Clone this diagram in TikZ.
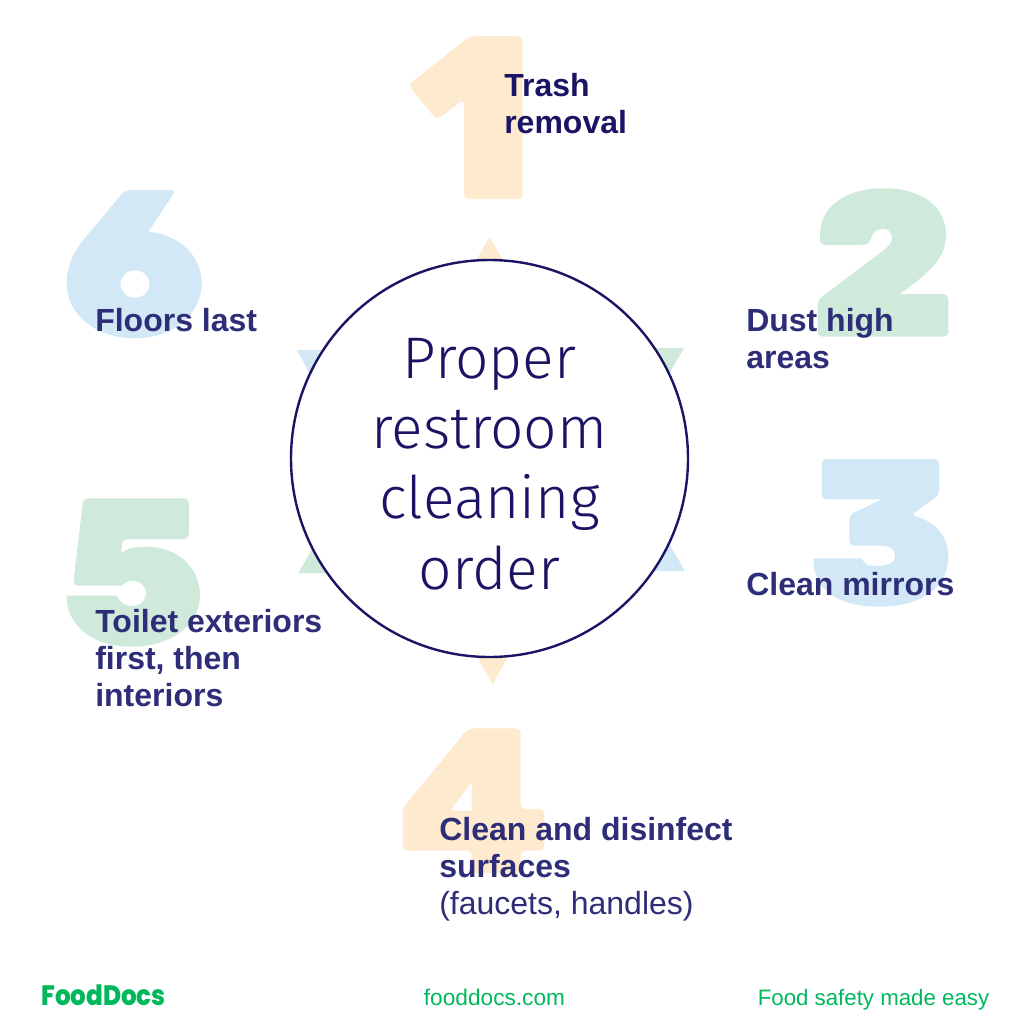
\documentclass[tikz,border=0pt]{standalone}
\usepackage{fontspec}
\setmainfont{Liberation Sans}
\newfontfamily\digitfont{Poppins Black}
\newfontfamily\titlefont{Fira Sans Light}
\newfontfamily\labelfont{Liberation Sans Bold}
\newfontfamily\logofont{Poppins ExtraBold}
\definecolor{navy}{HTML}{1B1464}
\definecolor{labelnavy}{HTML}{2E2D78}
\definecolor{peach}{HTML}{FDEACF}
\definecolor{mint}{HTML}{CFEADA}
\definecolor{sky}{HTML}{D3E8F6}
\definecolor{leaf}{HTML}{00B85C}
\tikzset{
  numeral/.style={inner sep=0pt, anchor=center, font=\digitfont\fontsize{34}{34}\selectfont},
  digitshape/.style={rounded corners=3.5pt, even odd rule},
  tasklabel/.style={inner sep=0pt, anchor=north west, align=left, text=labelnavy, font=\labelfont\fontsize{24}{27.7}\selectfont},
  footlabel/.style={inner sep=0pt, text=leaf, font=\fontsize{17}{20}\selectfont},
}
\begin{document}
\begin{tikzpicture}[x=.75pt,y=-.75pt]
\useasboundingbox (0,0) rectangle (1028,1036);
% numerals
\fill[peach,digitshape] (470,36) -- (522.7,36) -- (522.7,199) -- (464,199) -- (464,99.3) -- (436.7,120) -- (408.3,85) -- cycle;
\node[numeral,text=peach] (one) at (493,160) {1};
\fill[mint,digitshape] (820,245) [sharp corners] -- (820,235) .. controls (820,205) and (848,188) .. (883.3,188.3)
  .. controls (920,188) and (946,205) .. (946,235) .. controls (946,258) and (930,272) .. (900,294) [rounded corners=3.5pt]
  -- (948.3,294) -- (948.3,336.7) -- (817.7,336.7) -- (817.7,300) -- (880,253) [sharp corners]
  .. controls (888,247) and (892,243) .. (892,238) .. controls (892,232) and (888,229) .. (883,229)
  .. controls (877,229) and (873,232) .. (871,238) .. controls (870,243) and (867,245) .. (863,245) [rounded corners=3.5pt] -- cycle;
\node[numeral,text=mint] (two) at (919,238) {2};
\fill[sky,digitshape] (821.7,459) -- (939.3,459) -- (939.3,495) -- (911,515) [sharp corners]
  .. controls (935,522) and (948.3,535) .. (948.3,557) .. controls (948.3,588) and (920,606.7) .. (880,606.7)
  .. controls (840,606.7) and (813.3,592) .. (813.3,558.3) -- (861.7,558.3)
  .. controls (864,564) and (868,566) .. (875,566) .. controls (888,566) and (895,563) .. (895,556)
  .. controls (895,549) and (890,545.7) .. (880,545.7) [rounded corners=3.5pt] -- (849.3,545.7) -- (849.3,515) [sharp corners] -- (881.7,499.3) [rounded corners=3.5pt] -- (821.7,499.3) -- cycle;
\node[numeral,text=sky] (three) at (880,479) {3};
\fill[peach,digitshape] (468.3,728.3) -- (520.7,728.3) -- (520.7,809) -- (544.3,809) -- (544.3,850.7) -- (520.7,850.7)
  -- (520.7,873.3) -- (471.7,873.3) -- (471.7,850.7) -- (402.7,850.7) -- (402.7,808) -- cycle
  [sharp corners] (471.7,781.7) -- (471.7,810.7) -- (450.7,810.7) -- cycle;
\node[numeral,text=peach] (four) at (496,770) {4};
\fill[mint,digitshape] (83.3,498.3) -- (189,498.3) -- (189,539) -- (122.7,539) [sharp corners] -- (121,553.3)
  .. controls (128,548) and (136,546.7) .. (146.7,546.7) .. controls (178,546.7) and (200,568) .. (200,595)
  .. controls (200,626) and (170,646.7) .. (131.7,646.7) .. controls (95,646.7) and (66.7,628) .. (66.7,595.7)
  -- (116.7,595.7) .. controls (120,602) and (125,606) .. (132,606) .. controls (141,606) and (146,600) .. (146,593.3)
  .. controls (146,586) and (140,580.7) .. (133.3,580.7) .. controls (128,580.7) and (124,583) .. (121.7,585.7) [rounded corners=3.5pt]
  -- (73,585.7) -- cycle;
\node[numeral,text=mint] (five) at (136,518) {5};
\fill[sky,digitshape] (125,190) -- (176,190) [sharp corners] -- (148.3,231.7)
  .. controls (180,235) and (201.7,256) .. (201.7,283.3) .. controls (201.7,315) and (172,338.3) .. (135,338.3)
  .. controls (96,338.3) and (66.7,315) .. (66.7,283.3) .. controls (66.7,265) and (74,252) .. (83.3,240) [rounded corners=3.5pt] -- cycle
  [sharp corners] (149.5,284) .. controls (149.5,276) and (143,270.3) .. (135,270.3) .. controls (127,270.3) and (120.5,276) .. (120.5,284)
  .. controls (120.5,292) and (127,297.7) .. (135,297.7) .. controls (143,297.7) and (149.5,292) .. (149.5,284) -- cycle;
\node[numeral,text=sky] (six) at (96,278) {6};
% triangles behind the circle
\fill[peach] (489.5,237) -- (470,271) -- (509,271) -- cycle;
\fill[peach] (492.7,684) -- (473,650) -- (512,650) -- cycle;
\fill[mint] (684,348) -- (640,348) -- (662,386) -- cycle;
\fill[sky] (296.7,350) -- (340,350) -- (318,388) -- cycle;
\fill[mint] (298.3,573.3) -- (342,573.3) -- (320,535) -- cycle;
\fill[sky] (685,571) -- (641,571) -- (663,533) -- cycle;
\node[circle,draw=navy,line width=1.8pt,fill=white,minimum size=397*.75pt,inner sep=0pt] (hub) at (489.5,458.5) {};
\node[align=center,text=navy,font=\titlefont\fontsize{44}{52.8}\selectfont] (title) at (489.5,464) {Proper\\restroom\\cleaning\\order};
% labels
\node[tasklabel,text=navy] (trash) at (504,73) {Trash\\removal};
\node[tasklabel] (dust) at (746,308) {Dust high\\areas};
\node[tasklabel] (mirrors) at (746,572) {Clean mirrors};
\node[tasklabel] (surfaces) at (439,817) {Clean and disinfect\\surfaces\\{\normalfont (faucets, handles)}};
\node[tasklabel] (toilet) at (95,609) {Toilet exteriors\\first, then\\interiors};
\node[tasklabel] (floors) at (95,308) {Floors last};
% footer
\node[inner sep=0pt,anchor=base west,text=leaf,font=\logofont\fontsize{21}{21}\selectfont] (logo) at (41,1005) {\scalebox{.88}[1]{FoodDocs}};
\node[footlabel,anchor=base] (site) at (494.5,1005) {fooddocs.com};
\node[footlabel,anchor=base east,font=\fontsize{16.7}{20}\selectfont] (motto) at (989.5,1005) {Food safety made easy};
\end{tikzpicture}
\end{document}
